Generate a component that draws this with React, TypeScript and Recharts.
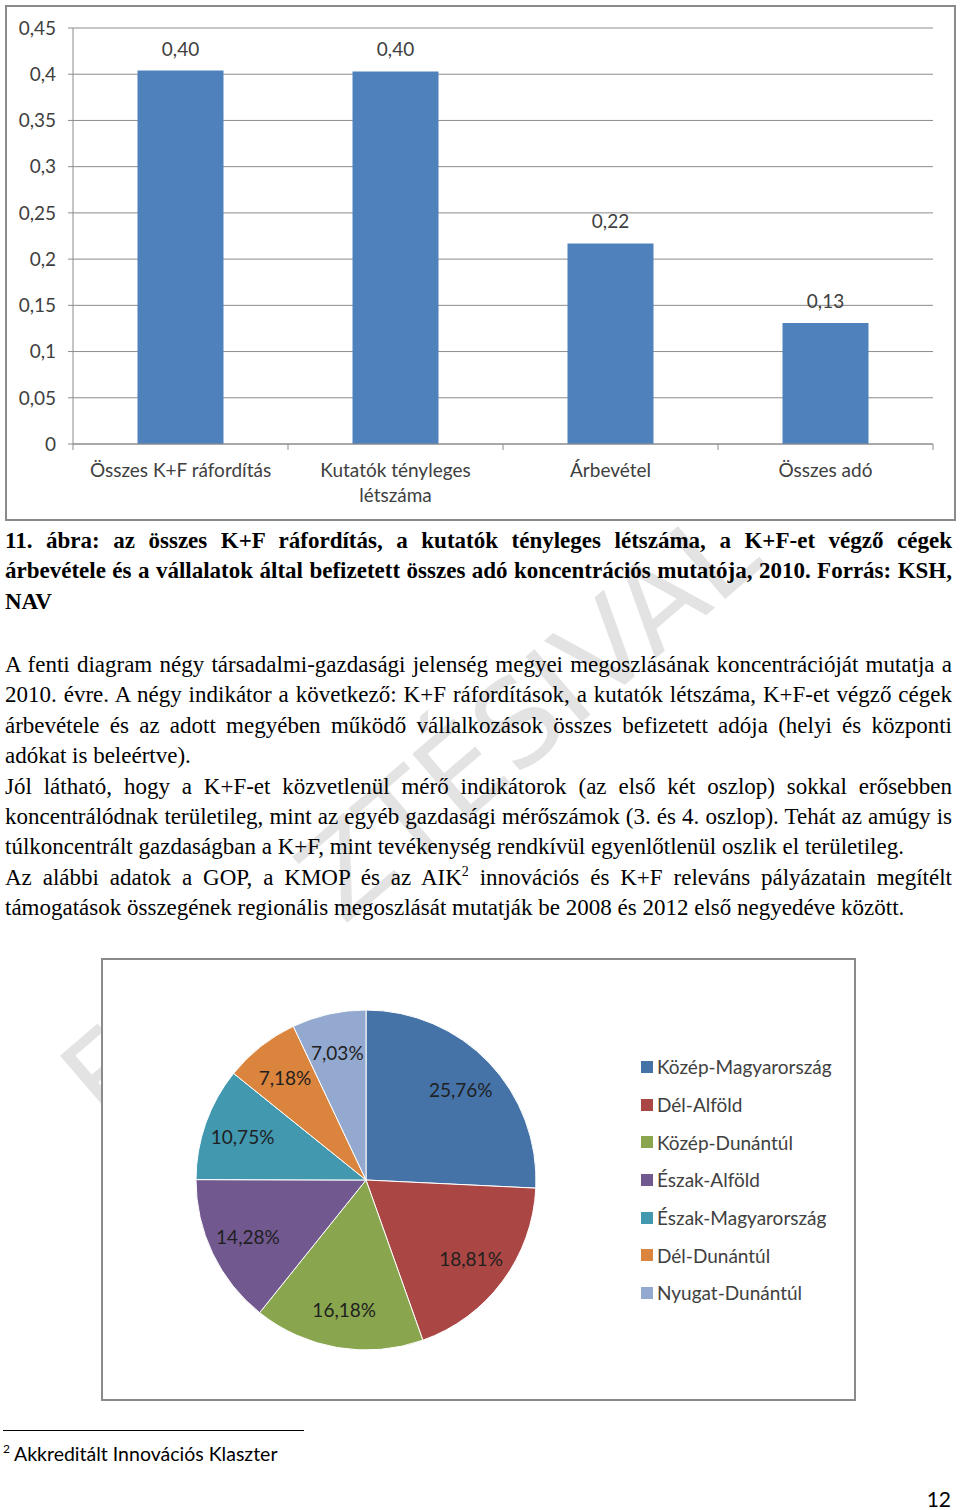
import React, { useLayoutEffect, useRef, useState } from 'react';
import { BarChart, Bar, XAxis, YAxis, CartesianGrid, LabelList, PieChart, Pie, Cell, Legend } from 'recharts';

const barCategories = ['Összes K+F ráfordítás', 'Kutatók tényleges\nlétszáma', 'Árbevétel', 'Összes adó'];
const barValues = [0.404, 0.403, 0.217, 0.131];
const yTicks = [0, 0.05, 0.1, 0.15, 0.2, 0.25, 0.3, 0.35, 0.4, 0.45];

const regions = ['Közép-Magyarország', 'Dél-Alföld', 'Közép-Dunántúl', 'Észak-Alföld', 'Észak-Magyarország', 'Dél-Dunántúl', 'Nyugat-Dunántúl'];
const shares = [25.76, 18.81, 16.18, 14.28, 10.75, 7.18, 7.03];
const regionColors = ['#4572A7', '#AA4643', '#89A54E', '#71588F', '#4198AF', '#DB843D', '#93A9CF'];

const barData = barCategories.map((name, i) => ({ name, value: barValues[i] }));
const pieData = regions.map((name, i) => ({ name, value: shares[i] }));

const CHART_FONT = 'Lato, "Open Sans", sans-serif';
const SERIF = '"Liberation Serif", "Times New Roman", serif';
const GRID = '#8c8c8c';
const TEXT = '#404040';
const RADIAN = Math.PI / 180;

const comma = (v: number) => String(v).replace('.', ',');

// one line of running text, stretched to the column width like Word's justify
function FitLine({ children, justify = true, width = 947, bold = false }: any) {
  const ref = useRef<HTMLSpanElement>(null);
  const [ws, setWs] = useState(0);
  const [sx, setSx] = useState(1);
  useLayoutEffect(() => {
    const el = ref.current;
    if (!el) return;
    const natural = el.getBoundingClientRect().width;
    const spaces = ((el.textContent || '').match(/ /g) || []).length;
    if (natural > width) setSx(width / natural);
    else if (justify && spaces) setWs((width - natural) / spaces);
  }, []);
  return (
    <div style={{ width, whiteSpace: 'nowrap', height: 30.4, lineHeight: '30.4px', fontWeight: bold ? 700 : 400 }}>
      <span
        ref={ref}
        style={{ display: 'inline-block', wordSpacing: ws, transform: `scaleX(${sx})`, transformOrigin: 'left center' }}
      >
        {children}
      </span>
    </div>
  );
}

const CategoryTick = (props: any) => {
  const { x, y, payload, index } = props;
  const half = payload.offset || 107.5;
  const lines = String(payload.value).split('\n');
  return (
    <g>
      <line x1={x - half} y1={y} x2={x - half} y2={y + 6} stroke={GRID} />
      {index === barCategories.length - 1 && <line x1={x + half} y1={y} x2={x + half} y2={y + 6} stroke={GRID} />}
      <text x={x} y={y + 33} textAnchor="middle" fill={TEXT} fontSize={19} fontFamily={CHART_FONT}>
        {lines.map((l, i) => (
          <tspan key={i} x={x} dy={i === 0 ? 0 : 25}>
            {l}
          </tspan>
        ))}
      </text>
    </g>
  );
};

const renderSliceLabel = (props: any) => {
  const { cx, cy, midAngle, outerRadius, value } = props;
  const r = outerRadius * 0.77;
  const x = cx + r * Math.cos(-midAngle * RADIAN);
  const y = cy + r * Math.sin(-midAngle * RADIAN);
  return (
    <text x={x} y={y} textAnchor="middle" dominantBaseline="central" fill="#1f1f1f" fontSize={19} fontFamily={CHART_FONT}>
      {value.toFixed(2).replace('.', ',')}%
    </text>
  );
};

const renderLegend = () => (
  <div style={{ fontFamily: CHART_FONT, fontSize: 19, color: TEXT }}>
    {regions.map((r, i) => (
      <div key={r} style={{ height: 37.7, display: 'flex', alignItems: 'center', whiteSpace: 'nowrap' }}>
        <span style={{ width: 12, height: 12, background: regionColors[i], marginRight: 4, display: 'inline-block' }} />
        {r}
      </div>
    ))}
  </div>
);

export default function App() {
  return (
    <div style={{ position: 'absolute', left: 0, top: 0, width: 960, height: 1510, background: '#fff', overflow: 'hidden', color: '#000' }}>
      {/* faint diagonal watermark behind everything */}
      <div
        style={{
          position: 'absolute',
          left: 410,
          top: 815,
          transform: 'translate(-50%, -50%) rotate(-40.6deg)',
          whiteSpace: 'pre',
          fontFamily: '"DejaVu Sans", sans-serif',
          fontSize: 118,
          lineHeight: 1,
          color: '#e3e3e3',
        }}
      >
        {'FO    ZTÉSIVAL'}
      </div>

      {/* bar chart */}
      <div style={{ position: 'absolute', left: 5, top: 5, width: 947, height: 512, border: '2px solid #8a8a8a', background: '#fff' }}>
        <BarChart width={947} height={512} data={barData} margin={{ top: 21, right: 21, left: 0, bottom: 0 }} barCategoryGap="30%">
          <CartesianGrid horizontal vertical={false} stroke={GRID} />
          <XAxis
            dataKey="name"
            height={75}
            tick={<CategoryTick />}
            tickLine={false}
            tickSize={0}
            tickMargin={0}
            axisLine={{ stroke: GRID }}
            interval={0}
          />
          <YAxis
            width={66}
            domain={[0, 0.45]}
            ticks={yTicks}
            tickFormatter={comma}
            tickSize={5}
            tickMargin={12}
            axisLine={{ stroke: GRID }}
            tickLine={{ stroke: GRID }}
            tick={{ fill: TEXT, fontSize: 19, fontFamily: CHART_FONT }}
          />
          <Bar dataKey="value" fill="#4F81BD" isAnimationActive={false}>
            <LabelList
              dataKey="value"
              position="top"
              offset={15}
              formatter={(v: any) => Number(v).toFixed(2).replace('.', ',')}
              style={{ fill: TEXT, fontSize: 19, fontFamily: CHART_FONT }}
            />
          </Bar>
        </BarChart>
      </div>

      {/* caption */}
      <div style={{ position: 'absolute', left: 5, top: 526, fontFamily: SERIF, fontSize: 23 }}>
        <FitLine bold>11. ábra: az összes K+F ráfordítás, a kutatók tényleges létszáma, a K+F-et végző cégek</FitLine>
        <FitLine bold>árbevétele és a vállalatok által befizetett összes adó koncentrációs mutatója, 2010. Forrás: KSH,</FitLine>
        <FitLine bold justify={false}>NAV</FitLine>
      </div>

      {/* body text */}
      <div style={{ position: 'absolute', left: 5, top: 650, fontFamily: SERIF, fontSize: 23 }}>
        <FitLine>A fenti diagram négy társadalmi-gazdasági jelenség megyei megoszlásának koncentrációját mutatja a</FitLine>
        <FitLine>2010. évre. A négy indikátor a következő: K+F ráfordítások, a kutatók létszáma, K+F-et végző cégek</FitLine>
        <FitLine>árbevétele és az adott megyében működő vállalkozások összes befizetett adója (helyi és központi</FitLine>
        <FitLine justify={false}>adókat is beleértve).</FitLine>
        <FitLine>Jól látható, hogy a K+F-et közvetlenül mérő indikátorok (az első két oszlop) sokkal erősebben</FitLine>
        <FitLine>koncentrálódnak területileg, mint az egyéb gazdasági mérőszámok (3. és 4. oszlop). Tehát az amúgy is</FitLine>
        <FitLine justify={false}>túlkoncentrált gazdaságban a K+F, mint tevékenység rendkívül egyenlőtlenül oszlik el területileg.</FitLine>
        <FitLine>
          Az alábbi adatok a GOP, a KMOP és az AIK
          <span style={{ fontSize: 14, position: 'relative', top: -9 }}>2</span> innovációs és K+F releváns pályázatain megítélt
        </FitLine>
        <FitLine justify={false}>támogatások összegének regionális megoszlását mutatják be 2008 és 2012 első negyedéve között.</FitLine>
      </div>

      {/* pie chart */}
      <div style={{ position: 'absolute', left: 101, top: 958, width: 751, height: 439, border: '2px solid #8a8a8a', background: '#fff' }}>
        <PieChart width={751} height={439} margin={{ top: 0, right: 0, bottom: 0, left: 0 }}>
          <Pie
            data={pieData}
            dataKey="value"
            nameKey="name"
            cx={263}
            cy={220}
            outerRadius={170}
            startAngle={90}
            endAngle={-270}
            stroke="#ffffff"
            strokeWidth={1}
            labelLine={false}
            label={renderSliceLabel}
            isAnimationActive={false}
          >
            {pieData.map((d, i) => (
              <Cell key={d.name} fill={regionColors[i]} />
            ))}
          </Pie>
          <Legend content={renderLegend} layout="vertical" verticalAlign="top" align="right" wrapperStyle={{ left: 538, top: 88, width: 215 }} />
        </PieChart>
      </div>

      {/* footnote */}
      <div style={{ position: 'absolute', left: 3, top: 1430, width: 301, height: 0, borderTop: '1.5px solid #000' }} />
      <div style={{ position: 'absolute', left: 3, top: 1442, fontFamily: CHART_FONT, fontSize: 19.5, whiteSpace: 'nowrap' }}>
        <span style={{ fontSize: 12, position: 'relative', top: -8, marginRight: 4 }}>2</span>Akkreditált Innovációs Klaszter
      </div>
      <div style={{ position: 'absolute', right: 9, top: 1486, fontFamily: CHART_FONT, fontSize: 21 }}>12</div>
    </div>
  );
}
